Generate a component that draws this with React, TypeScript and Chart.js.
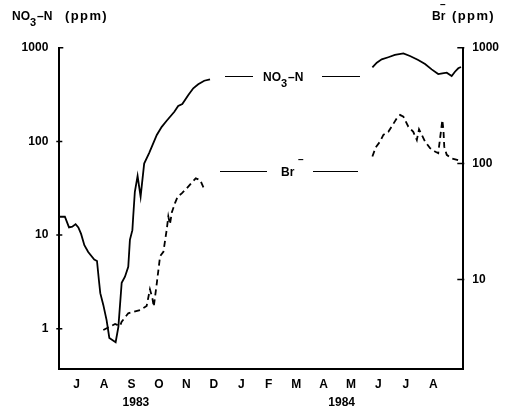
import React, { useEffect, useRef } from "react";
import { Chart, registerables } from "chart.js";

Chart.register(...registerables);

// x values are months counted from 1 July 1983 (month centres at .5)
const monthLabels = ["J", "A", "S", "O", "N", "D", "J", "F", "M", "A", "M", "J", "J", "A"];
const monthTicks = [0.5, 1.5, 2.5, 3.5, 4.5, 5.5, 6.5, 7.5, 8.5, 9.5, 10.5, 11.5, 12.5, 13.5];
const yearLabels = ["1983", "1984"];
const yearTicks = [2.66, 10.16];
const leftTicks = [1, 10, 100, 1000];
const rightTicks = [10, 100, 1000];

// NO3-N (ppm), left axis
const no3Months1 = [-0.13, 0.07, 0.22, 0.34, 0.46, 0.56, 0.66, 0.78, 0.92, 1.14, 1.24, 1.31, 1.36, 1.47, 1.59, 1.69, 1.92, 2.02, 2.14, 2.26, 2.38, 2.44, 2.53, 2.56, 2.62, 2.72, 2.83, 2.96, 3.14, 3.42, 3.6, 3.78, 4.06, 4.2, 4.35, 4.57, 4.75, 4.93, 5.15, 5.36];
const no3Values1 = [15.7, 15.7, 12.1, 12.3, 13.1, 12.1, 10.3, 7.8, 6.6, 5.5, 5.3, 3.3, 2.4, 1.8, 1.24, 0.8, 0.72, 1.05, 3.1, 3.6, 4.6, 8.9, 11.3, 15.7, 29, 42.7, 25.7, 58, 75, 117, 143, 166, 207, 239, 251, 313, 369, 407, 444, 460];
const no3Months2 = [11.28, 11.44, 11.62, 11.86, 12.1, 12.41, 12.65, 12.95, 13.2, 13.44, 13.68, 13.83, 13.99, 14.17, 14.29, 14.41, 14.51];
const no3Values2 = [618, 692, 751, 791, 836, 871, 815, 739, 670, 587, 523, 533, 541, 499, 554, 603, 622];

// Br- (ppm), right axis
const brMonths1 = [1.47, 1.71, 1.9, 2.08, 2.14, 2.38, 2.81, 3.05, 3.17, 3.26, 3.31, 3.42, 3.54, 3.66, 3.78, 3.84, 3.9, 3.97, 4.08, 4.18, 4.33, 4.51, 4.69, 4.84, 5.0, 5.12];
const brValues1 = [3.67, 3.92, 4.13, 3.97, 4.32, 5.11, 5.45, 5.91, 8.23, 6.88, 5.83, 9.27, 15.9, 17.3, 26.7, 35, 30, 38, 45.4, 51.8, 55.4, 61.2, 68.4, 74.7, 72.2, 62.4];
const brMonths2 = [11.28, 11.4, 11.56, 11.68, 11.86, 11.98, 12.17, 12.29, 12.41, 12.59, 12.77, 12.9, 12.98, 13.08, 13.2, 13.38, 13.56, 13.68, 13.74, 13.83, 13.87, 13.9, 13.99, 14.17, 14.41, 14.54];
const brValues2 = [115, 138, 155, 177, 188, 208, 246, 263, 254, 208, 188, 160, 198, 177, 155, 136, 127, 123, 160, 238, 195, 140, 119, 111, 107, 106];

const X_MIN = -0.134;
const X_MAX = 14.594;
const FONT_FAMILY = '"Liberation Sans", Arial, sans-serif';

const toPoints = (xs: number[], ys: number[]) => xs.map((x, i) => ({ x, y: ys[i] as number | null }));
const joinSegments = (a: { x: number; y: number | null }[], b: { x: number; y: number | null }[]) => [
  ...a,
  { x: 8, y: null },
  ...b,
];

function drawNO3(ctx: CanvasRenderingContext2D, x: number, y: number, suffix: string) {
  ctx.font = `bold 12px ${FONT_FAMILY}`;
  ctx.fillText("NO", x, y);
  let w = ctx.measureText("NO").width;
  ctx.font = `bold 11px ${FONT_FAMILY}`;
  ctx.fillText("3", x + w, y + 6);
  w += ctx.measureText("3").width + 1;
  ctx.font = `bold 12px ${FONT_FAMILY}`;
  ctx.fillText(suffix, x + w, y);
}

function drawSpaced(ctx: CanvasRenderingContext2D, text: string, x: number, y: number, spacing: number) {
  let cx = x;
  for (const ch of text) {
    ctx.fillText(ch, cx, y);
    cx += ctx.measureText(ch).width + spacing;
  }
}

const annotationPlugin = {
  id: "annotations",
  afterDraw(chart: any) {
    const ctx: CanvasRenderingContext2D = chart.ctx;
    const y = chart.scales.y;
    const y2 = chart.scales.y2;
    ctx.save();
    ctx.fillStyle = "#000";
    ctx.strokeStyle = "#000";
    ctx.textAlign = "left";
    ctx.textBaseline = "alphabetic";

    // tick marks
    ctx.lineWidth = 1.5;
    ctx.beginPath();
    const xl = y.right;
    y.ticks.forEach((t: any) => {
      const py = y.getPixelForValue(t.value);
      if (t.value === 1000) {
        ctx.moveTo(xl - 1, py);
        ctx.lineTo(xl + 4, py);
      } else {
        ctx.moveTo(xl - 3, py);
        ctx.lineTo(xl + 3, py);
      }
    });
    const xr = y2.left;
    y2.ticks.forEach((t: any) => {
      const py = y2.getPixelForValue(t.value);
      ctx.moveTo(xr - 6, py);
      ctx.lineTo(xr + 1, py);
    });
    ctx.stroke();

    // axis titles
    drawNO3(ctx, 12, 20, "\u2013N");
    ctx.font = `bold 13px ${FONT_FAMILY}`;
    drawSpaced(ctx, "(ppm)", 65, 20, 1.4);
    ctx.font = `bold 12px ${FONT_FAMILY}`;
    ctx.fillText("Br", 432, 20);
    ctx.font = `bold 10px ${FONT_FAMILY}`;
    ctx.fillText("\u2013", 440, 8);
    ctx.font = `bold 13px ${FONT_FAMILY}`;
    drawSpaced(ctx, "(ppm)", 452, 20, 1.4);

    // in-plot series labels
    ctx.lineWidth = 1;
    ctx.beginPath();
    ctx.moveTo(225, 76.5);
    ctx.lineTo(253, 76.5);
    ctx.moveTo(322, 76.5);
    ctx.lineTo(360, 76.5);
    ctx.moveTo(220, 171.5);
    ctx.lineTo(267, 171.5);
    ctx.moveTo(313, 171.5);
    ctx.lineTo(358, 171.5);
    ctx.stroke();
    drawNO3(ctx, 263, 81, "\u2013N");
    ctx.font = `bold 12px ${FONT_FAMILY}`;
    ctx.fillText("Br", 281, 176);
    ctx.font = `bold 10px ${FONT_FAMILY}`;
    ctx.fillText("\u2013", 298, 163);
    ctx.restore();
  },
};

export default function App() {
  const canvasRef = useRef<HTMLCanvasElement | null>(null);

  useEffect(() => {
    if (!canvasRef.current) return;
    const tickFont = { family: FONT_FAMILY, size: 12, weight: "bold" as const };
    const chart = new Chart(canvasRef.current, {
      type: "line",
      data: {
        datasets: [
          {
            label: "NO3-N",
            data: joinSegments(toPoints(no3Months1, no3Values1), toPoints(no3Months2, no3Values2)),
            borderColor: "#000",
            borderWidth: 1.8,
            pointRadius: 0,
            tension: 0,
            spanGaps: false,
            yAxisID: "y",
            xAxisID: "x",
          },
          {
            label: "Br-",
            data: joinSegments(toPoints(brMonths1, brValues1), toPoints(brMonths2, brValues2)),
            borderColor: "#000",
            borderWidth: 1.8,
            borderDash: [6, 4],
            pointRadius: 0,
            tension: 0,
            spanGaps: false,
            yAxisID: "y2",
            xAxisID: "x",
          },
        ],
      },
      options: {
        responsive: false,
        animation: false,
        devicePixelRatio: 1,
        layout: { padding: { top: 47.7, left: 0, right: 0, bottom: 0 } },
        plugins: { legend: { display: false }, tooltip: { enabled: false } },
        scales: {
          x: {
            type: "linear",
            position: "bottom",
            weight: 0,
            min: X_MIN,
            max: X_MAX,
            afterBuildTicks: (s: any) => {
              s.ticks = monthTicks.map((v) => ({ value: v }));
            },
            afterFit: (s: any) => {
              s.height = 24;
            },
            ticks: {
              autoSkip: false,
              maxRotation: 0,
              padding: 8,
              color: "#000",
              font: tickFont,
              callback: (_v: any, i: number) => monthLabels[i],
            },
            grid: { display: false, drawTicks: false },
            border: { display: true, color: "#000", width: 2 },
          },
          x2: {
            type: "linear",
            position: "bottom",
            weight: 1,
            min: X_MIN,
            max: X_MAX,
            afterBuildTicks: (s: any) => {
              s.ticks = yearTicks.map((v) => ({ value: v }));
            },
            afterFit: (s: any) => {
              s.height = 15.7;
            },
            ticks: {
              autoSkip: false,
              maxRotation: 0,
              padding: 2,
              color: "#000",
              font: tickFont,
              callback: (_v: any, i: number) => yearLabels[i],
            },
            grid: { display: false, drawTicks: false },
            border: { display: false },
          },
          y: {
            type: "logarithmic",
            position: "left",
            min: 0.37,
            max: 1000,
            afterBuildTicks: (s: any) => {
              s.ticks = leftTicks.map((v) => ({ value: v }));
            },
            afterFit: (s: any) => {
              s.width = 59.3;
            },
            ticks: {
              padding: 11,
              color: "#000",
              font: tickFont,
              callback: (v: any) => String(v),
            },
            grid: { display: false, drawTicks: false },
            border: { display: true, color: "#000", width: 2 },
          },
          y2: {
            type: "logarithmic",
            position: "right",
            min: 1.68,
            max: 1000,
            afterBuildTicks: (s: any) => {
              s.ticks = rightTicks.map((v) => ({ value: v }));
            },
            afterFit: (s: any) => {
              s.width = 49.7;
            },
            ticks: {
              padding: 9,
              color: "#000",
              font: tickFont,
              callback: (v: any) => String(v),
            },
            grid: { display: false, drawTicks: false },
            border: { display: true, color: "#000", width: 2 },
          },
        },
      },
      plugins: [annotationPlugin],
    });
    return () => chart.destroy();
  }, []);

  return (
    <div style={{ position: "absolute", left: 0, top: 0, width: 513, height: 409, background: "#fff" }}>
      <canvas ref={canvasRef} width={513} height={409} style={{ display: "block" }} />
    </div>
  );
}
